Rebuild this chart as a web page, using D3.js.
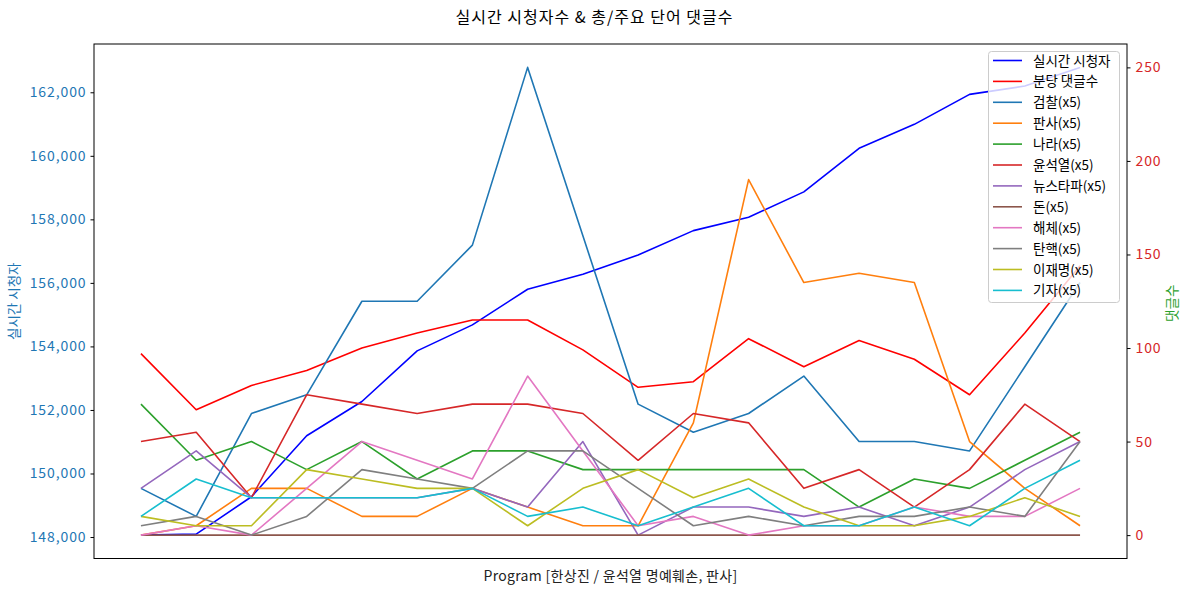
<!DOCTYPE html>
<html><head><meta charset="utf-8">
<script src="https://cdn.jsdelivr.net/npm/d3@7"></script>
<style>
body{margin:0;background:#fff;}
text{font-family:"Noto Sans CJK KR","Noto Sans",sans-serif;}
</style></head>
<body><svg id="c" width="1189" height="593"></svg>
<script>
const xIndex = d3.range(18);
const viewers = [148060, 148090, 149268, 151187, 152266, 153860, 154678, 155801, 156273, 156880, 157645, 158066, 158865, 160236, 160991, 161935, 162196, 162784];
const commentsPerMin = [97, 67, 80, 88, 100, 108, 115, 115, 99, 79, 82, 105, 90, 104, 94, 75, 108, 144];
const kw검찰 =   [25, 10, 65, 75, 125, 125, 155, 250, 160, 70, 55, 65, 85, 50, 50, 45, 90, 135];
const kw판사 =   [0, 5, 25, 25, 10, 10, 25, 15, 5, 5, 60, 190, 135, 140, 135, 50, 25, 5];
const kw나라 =   [70, 40, 50, 35, 50, 30, 45, 45, 35, 35, 35, 35, 35, 15, 30, 25, 40, 55];
const kw윤석열 = [50, 55, 20, 75, 70, 65, 70, 70, 65, 40, 65, 60, 25, 35, 15, 35, 70, 50];
const kw뉴스타파 = [25, 45, 20, 20, 20, 20, 25, 15, 50, 0, 15, 15, 10, 15, 5, 15, 35, 50];
const kw돈 =     [0, 0, 0, 0, 0, 0, 0, 0, 0, 0, 0, 0, 0, 0, 0, 0, 0, 0];
const kw해체 =   [0, 5, 0, 25, 50, 40, 30, 85, 45, 5, 10, 0, 5, 5, 15, 10, 10, 25];
const kw탄핵 =   [5, 10, 0, 10, 35, 30, 25, 45, 45, 25, 5, 10, 5, 10, 10, 15, 10, 50];
const kw이재명 = [10, 5, 5, 35, 30, 25, 25, 5, 25, 35, 20, 30, 15, 5, 5, 10, 20, 10];
const kw기자 =   [10, 30, 20, 20, 20, 20, 25, 10, 15, 5, 15, 25, 5, 5, 15, 5, 25, 40];
const leftTicks = [148000, 150000, 152000, 154000, 156000, 158000, 160000, 162000];
const rightTicks = [0, 50, 100, 150, 200, 250];

const title = "실시간 시청자수 & 총/주요 단어 댓글수";
const xLabel = "Program [한상진 / 윤석열 명예훼손, 판사]";
const yLeftLabel = "실시간 시청자";
const yRightLabel = "댓글수";

const series = [
  {name:"분당 댓글수", values:commentsPerMin, color:"#ff0000"},
  {name:"검찰(x5)", values:kw검찰, color:"#1f77b4"},
  {name:"판사(x5)", values:kw판사, color:"#ff7f0e"},
  {name:"나라(x5)", values:kw나라, color:"#2ca02c"},
  {name:"윤석열(x5)", values:kw윤석열, color:"#d62728"},
  {name:"뉴스타파(x5)", values:kw뉴스타파, color:"#9467bd"},
  {name:"돈(x5)", values:kw돈, color:"#8c564b"},
  {name:"해체(x5)", values:kw해체, color:"#e377c2"},
  {name:"탄핵(x5)", values:kw탄핵, color:"#7f7f7f"},
  {name:"이재명(x5)", values:kw이재명, color:"#bcbd22"},
  {name:"기자(x5)", values:kw기자, color:"#17becf"}
];

const L=94, R=1127, T=44, B=558.5;
const svg = d3.select("#c");
function pad(ext){const r=ext[1]-ext[0];return [ext[0]-0.05*r, ext[1]+0.05*r];}
const x = d3.scaleLinear().domain(pad([0,17])).range([L,R]);
const yL = d3.scaleLinear().domain(pad(d3.extent(viewers))).range([B,T]);
const allRight = series.flatMap(s=>s.values);
const yR = d3.scaleLinear().domain(pad(d3.extent(allRight))).range([B,T]);

const lineL = d3.line().x((d,i)=>x(xIndex[i])).y(d=>yL(d));
svg.append("path").datum(viewers).attr("d",lineL).attr("fill","none")
  .attr("stroke","#0000ff").attr("stroke-width",1.6).attr("stroke-linejoin","round");
const lineR = d3.line().x((d,i)=>x(xIndex[i])).y(d=>yR(d));
series.forEach(s=>{
  svg.append("path").datum(s.values).attr("d",lineR).attr("fill","none")
    .attr("stroke",s.color).attr("stroke-width",1.6).attr("stroke-linejoin","round");
});

svg.append("rect").attr("x",L).attr("y",T).attr("width",R-L).attr("height",B-T)
  .attr("fill","none").attr("stroke","#000").attr("stroke-width",1);

const gL = svg.append("g").attr("transform",`translate(${L},0)`)
  .call(d3.axisLeft(yL).tickValues(leftTicks).tickFormat(d3.format(",")).tickSize(3.5).tickPadding(4));
gL.select(".domain").remove();
gL.selectAll("text").attr("fill","#1f77b4").attr("font-size",14).attr("letter-spacing","0.9px");
gL.selectAll("line").attr("stroke","#000");
const gR = svg.append("g").attr("transform",`translate(${R},0)`)
  .call(d3.axisRight(yR).tickValues(rightTicks).tickSize(3.5).tickPadding(5));
gR.select(".domain").remove();
gR.selectAll("text").attr("fill","#d62728").attr("font-size",14).attr("letter-spacing","0.9px");
gR.selectAll("line").attr("stroke","#000");

svg.append("text").attr("x",594.5).attr("y",23).attr("text-anchor","middle")
  .attr("font-size",16).attr("letter-spacing","1px").attr("fill","#000").text(title);
svg.append("text").attr("x",(L+R)/2).attr("y",581).attr("text-anchor","middle")
  .attr("font-size",14).attr("letter-spacing","0.3px").attr("fill","#222").text(xLabel);
svg.append("text").attr("transform",`translate(19,${(T+B)/2}) rotate(-90)`).attr("text-anchor","middle")
  .attr("font-size",13.5).attr("fill","#1f77b4").text(yLeftLabel);
svg.append("text").attr("transform",`translate(1177,${(T+B)/2+2}) rotate(-90)`).attr("text-anchor","middle")
  .attr("font-size",13.5).attr("fill","#2ca02c").text(yRightLabel);

const legItems = [{name:"실시간 시청자", color:"#0000ff"}].concat(series);
const lg = svg.append("g");
lg.append("rect").attr("x",988.5).attr("y",51.5).attr("width",131).attr("height",251).attr("rx",3)
  .attr("fill","rgba(255,255,255,0.8)").attr("stroke","#cccccc").attr("stroke-width",1);
legItems.forEach((d,k)=>{
  const yy = 60.5 + k*20.9;
  lg.append("line").attr("x1",993).attr("x2",1022).attr("y1",yy).attr("y2",yy)
    .attr("stroke",d.color).attr("stroke-width",1.6);
  lg.append("text").attr("x",1033).attr("y",yy+5).attr("font-size",13.5).attr("fill","#000").text(d.name);
});
</script></body></html>
